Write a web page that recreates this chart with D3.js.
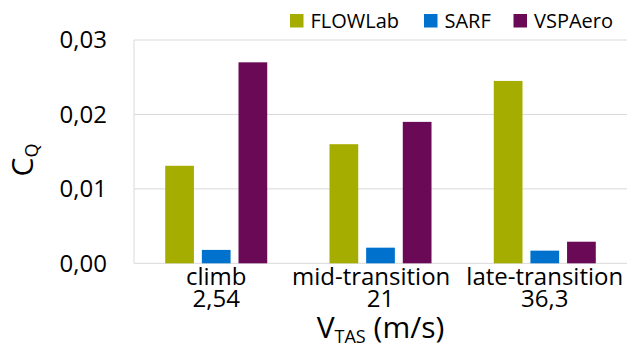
<!DOCTYPE html>
<html><head><meta charset="utf-8">
<script src="https://cdn.jsdelivr.net/npm/d3@7"></script>
<style>body{margin:0;background:#fff}svg{display:block;font-family:"Open Sans",sans-serif}</style>
</head><body><svg id="c" width="636" height="350"></svg>
<script>
const categories = ["climb", "mid-transition\u00a0\u00a0\u00a0", "late-transition"];
const speeds = ["2,54", "21", "36,3"];
const seriesNames = ["FLOWLab", "SARF", "VSPAero"];
const colors = ["#A5AE00", "#0072CE", "#6A0A56"];
const flowlab = [0.0131, 0.0160, 0.0245];
const sarf = [0.0018, 0.0021, 0.0017];
const vspaero = [0.0270, 0.0190, 0.0029];
const yTicks = [0, 0.01, 0.02, 0.03];
const seriesValues = [flowlab, sarf, vspaero];

const svg = d3.select("#c");
const L = 134, R = 627, T = 40, B = 263.3;
const y = d3.scaleLinear().domain([0, 0.03]).range([B, T]);
const x0 = d3.scaleBand().domain(categories).range([L, R]).paddingInner(0.379).paddingOuter(0.19);
const x1 = d3.scaleBand().domain(seriesNames).range([0, x0.bandwidth()]).paddingInner(0.216);
const fmt = v => d3.format(".2f")(v).replace(".", ",");

// gridlines
svg.append("g").selectAll("line").data(yTicks).join("line")
  .attr("x1", L).attr("x2", R).attr("y1", d => y(d)).attr("y2", d => y(d))
  .attr("stroke", "#d9d9d9").attr("stroke-width", 1);
svg.append("line").attr("x1", L).attr("x2", L).attr("y1", T).attr("y2", B)
  .attr("stroke", "#d9d9d9");

// y axis labels
const yAxis = d3.axisLeft(y).tickValues(yTicks).tickFormat(fmt).tickSize(0).tickPadding(27);
const ya = svg.append("g").attr("transform", `translate(${L},0)`).call(yAxis);
ya.select(".domain").remove();
ya.selectAll("text").attr("font-size", 24).attr("font-family", "Open Sans").attr("fill", "#000").attr("dy", "0.33em");

// bars
const groups = svg.append("g").selectAll("g").data(categories).join("g")
  .attr("transform", d => `translate(${x0(d)},0)`);
groups.selectAll("rect").data((c, i) => seriesNames.map((s, j) => ({s, j, v: seriesValues[j][i]})))
  .join("rect")
  .attr("x", d => x1(d.s)).attr("width", x1.bandwidth())
  .attr("y", d => y(d.v)).attr("height", d => y(0) - y(d.v))
  .attr("fill", d => colors[d.j]);

// x axis labels
const xl = svg.append("g");
categories.forEach((c, i) => {
  const cx = x0(c) + x0.bandwidth() / 2;
  xl.append("text").attr("x", cx).attr("y", 285).attr("text-anchor", "middle")
    .attr("font-size", 24).attr("fill", "#000").text(c);
  xl.append("text").attr("x", cx).attr("y", 306.5).attr("text-anchor", "middle")
    .attr("font-size", 24).attr("fill", "#000").text(speeds[i]);
});

// x title
const xt = svg.append("text").attr("x", (L + R) / 2).attr("y", 338).attr("text-anchor", "middle")
  .attr("font-size", 30).attr("fill", "#000");
xt.append("tspan").text("V");
xt.append("tspan").attr("font-size", 18).attr("dy", 5).text("TAS");
xt.append("tspan").attr("dy", -5).text(" (m/s)");

// y title
const yt = svg.append("text").attr("transform", "translate(33,160) rotate(-90)").attr("text-anchor", "middle")
  .attr("font-size", 30).attr("fill", "#000");
yt.append("tspan").text("C");
yt.append("tspan").attr("font-size", 18).attr("dy", 5).text("Q");

// legend
const legX = [290, 424, 513.5];
const lg = svg.append("g").selectAll("g").data(seriesNames).join("g")
  .attr("transform", (d, i) => `translate(${legX[i]},0)`);
lg.append("rect").attr("x", 0).attr("y", 14).attr("width", 13.5).attr("height", 13.5).attr("fill", (d, i) => colors[i]);
lg.append("text").attr("x", 20.5).attr("y", 28).attr("font-size", 20).attr("fill", "#000").text(d => d);
</script></body></html>
